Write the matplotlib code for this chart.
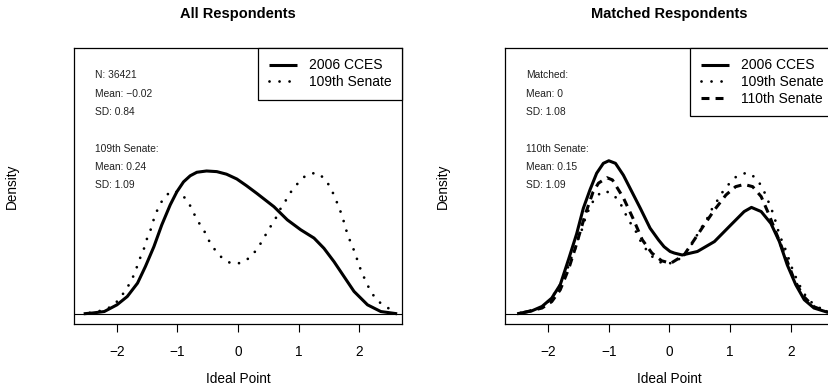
import matplotlib
matplotlib.use("Agg")
import matplotlib.pyplot as plt

plt.rcParams['font.family'] = ['Liberation Sans', 'DejaVu Sans']

# ---- data ----
x_cces_all = [-2.55, -2.40, -2.21, -2.00, -1.83, -1.66, -1.53, -1.39, -1.26, -1.12, -1.01,
              -0.90, -0.79, -0.68, -0.52, -0.35, -0.19, -0.02, 0.14, 0.31, 0.595, 0.815,
              1.036, 1.256, 1.42, 1.587, 1.75, 1.917, 2.14, 2.36, 2.63]
d_cces_all = [0.000, 0.0025, 0.007, 0.028, 0.054, 0.096, 0.148, 0.210, 0.278, 0.341, 0.382,
              0.413, 0.432, 0.443, 0.447, 0.445, 0.437, 0.422, 0.401, 0.377, 0.335, 0.294,
              0.263, 0.237, 0.205, 0.163, 0.117, 0.070, 0.028, 0.007, 0.000]

x_sen109 = [-2.45, -2.25, -2.08, -1.97, -1.86, -1.76, -1.69, -1.63, -1.56, -1.51, -1.44,
            -1.39, -1.32, -1.23, -1.10, -0.95, -0.82, -0.74, -0.66, -0.56, -0.48, -0.38,
            -0.26, -0.11, 0.06, 0.21, 0.33, 0.42, 0.51, 0.61, 0.69, 0.79, 0.88, 1.00,
            1.13, 1.30, 1.44, 1.54, 1.61, 1.68, 1.74, 1.79, 1.85, 1.92, 1.98, 2.04,
            2.12, 2.19, 2.30, 2.44, 2.62]
d_sen109 = [0.003, 0.010, 0.023, 0.044, 0.073, 0.104, 0.136, 0.169, 0.200, 0.232, 0.265,
            0.297, 0.331, 0.362, 0.385, 0.378, 0.350, 0.318, 0.289, 0.260, 0.229, 0.200,
            0.174, 0.157, 0.159, 0.178, 0.206, 0.235, 0.265, 0.294, 0.325, 0.355, 0.383, 0.411,
            0.435, 0.442, 0.422, 0.391, 0.360, 0.328, 0.294, 0.261, 0.229, 0.197, 0.164, 0.131,
            0.099, 0.070, 0.042, 0.021, 0.007]

x_cces_matched = [-2.51, -2.27, -2.10, -1.94, -1.80, -1.66, -1.53, -1.42, -1.31, -1.20, -1.09,
                  -1.00, -0.89, -0.76, -0.62, -0.48, -0.32, -0.18, -0.09, 0.01, 0.08, 0.21,
                  0.46, 0.74, 1.01, 1.23, 1.35, 1.51, 1.67, 1.81, 1.94, 2.08, 2.22, 2.38,
                  2.60, 2.75]
d_cces_matched = [0.000, 0.009, 0.023, 0.049, 0.091, 0.172, 0.250, 0.330, 0.388, 0.440, 0.471,
                  0.479, 0.471, 0.434, 0.382, 0.330, 0.268, 0.231, 0.210, 0.195, 0.190, 0.184,
                  0.195, 0.226, 0.278, 0.320, 0.333, 0.320, 0.283, 0.226, 0.153, 0.091, 0.044,
                  0.018, 0.005, 0.001]

x_sen110 = [-2.40, -2.10, -1.94, -1.80, -1.66, -1.53, -1.39, -1.26, -1.17, -1.03, -0.94,
            -0.76, -0.59, -0.45, -0.29, -0.13, 0.02, 0.24, 0.41, 0.57, 0.74, 0.93, 1.09,
            1.23, 1.37, 1.51, 1.64, 1.78, 1.92, 2.05, 2.20, 2.38, 2.60]
d_sen110 = [0.004, 0.018, 0.038, 0.075, 0.141, 0.219, 0.310, 0.381, 0.409, 0.426, 0.419,
            0.363, 0.294, 0.232, 0.190, 0.166, 0.158, 0.184, 0.232, 0.278, 0.325, 0.372, 0.398,
            0.405, 0.398, 0.367, 0.310, 0.242, 0.174, 0.109, 0.056, 0.022, 0.006]

xticks = [-2, -1, 0, 1, 2]
titles = ["All Respondents", "Matched Respondents"]
notes_all = ["N: 36421", "Mean: \u22120.02", "SD: 0.84", "109th Senate:", "Mean: 0.24", "SD: 1.09"]
notes_matched = ["Matched:", "Mean: 0", "SD: 1.08", "110th Senate:", "Mean: 0.15", "SD: 1.09"]

# ---- figure ----
W, H = 829, 390
fig = plt.figure(figsize=(W / 100, H / 100), dpi=100)

def px_axes(left, top, width, height):
    return fig.add_axes([left / W, 1 - (top + height) / H, width / W, height / H])

ax1 = px_axes(74, 48, 328, 276)
ax2 = px_axes(505, 48, 329, 276)

solid_kw = dict(color='black', lw=2.2, solid_capstyle='butt', solid_joinstyle='round')
dot_kw = dict(color='black', lw=2.0, linestyle=(0, (0.01, 3.6)), dash_capstyle='round')
dash_kw = dict(color='black', lw=2.2, linestyle=(0, (2.6, 2.0)), dash_capstyle='butt',
               dash_joinstyle='round')

ax1.plot(x_cces_all, d_cces_all, label="2006 CCES", **solid_kw)
ax1.plot(x_sen109, d_sen109, label="109th Senate", **dot_kw)

ax2.plot(x_cces_matched, d_cces_matched, label="2006 CCES", **solid_kw)
ax2.plot(x_sen109, d_sen109, label="109th Senate", **dot_kw)
ax2.plot(x_sen110, d_sen110, label="110th Senate", **dash_kw)

ymax = 0.8
for ax, title, notes, axw in [(ax1, titles[0], notes_all, 328), (ax2, titles[1], notes_matched, 329)]:
    ax.axhline(0, color='black', lw=0.8)
    ax.set_xlim(-2.71, 2.71)
    ax.set_ylim(-0.04 * ymax, 1.04 * ymax)
    ax.set_xticks(xticks)
    ax.set_xticklabels([("\u2212%d" % -t) if t < 0 else "%d" % t for t in xticks])
    ax.set_yticks([])
    ax.tick_params(axis='x', direction='out', length=5.5, width=0.8, pad=9.5, labelsize=9.8)
    for s in ax.spines.values():
        s.set_linewidth(0.9)
    ax.text(0.5, 1 + 34 / 276, title, transform=ax.transAxes, ha='center', va='center',
            fontsize=10.5, fontweight='bold')
    ax.text(0.5, -55 / 276, "Ideal Point", transform=ax.transAxes, ha='center', va='center',
            fontsize=9.8)
    ax.text(-62 / axw, 0.5, "Density", transform=ax.transAxes, ha='center', va='center',
            rotation=90, fontsize=9.8)
    ys = [0.902, 0.833, 0.768, 0.634, 0.569, 0.502]
    for t, yy in zip(notes, ys):
        ax.text(21 / axw, yy, t, transform=ax.transAxes, ha='left', va='center',
                fontsize=7.4, color='#222222')
    leg = ax.legend(loc='upper right', bbox_to_anchor=(1.0, 1.0), borderaxespad=0,
                    fancybox=False, framealpha=1, edgecolor='black', fontsize=10,
                    handlelength=2.05, handletextpad=0.85, borderpad=0.75, labelspacing=0.2)
    leg.get_frame().set_linewidth(0.9)

fig.savefig("out.png", dpi=100)
